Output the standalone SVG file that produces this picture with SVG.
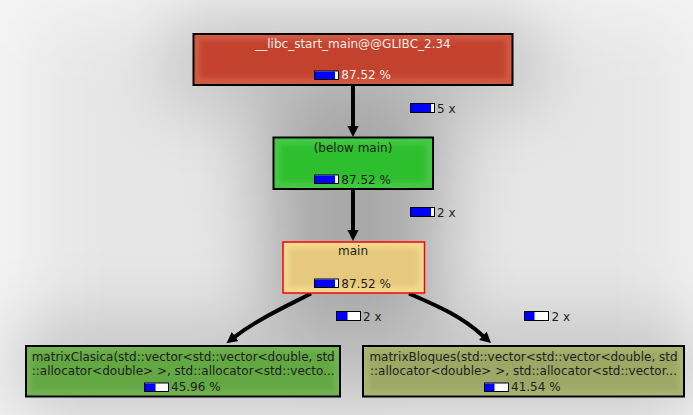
<svg xmlns="http://www.w3.org/2000/svg" width="693" height="415" viewBox="0 0 693 415">
<defs>
<style>
text{font-family:"DejaVu Sans","Liberation Sans",sans-serif;font-size:12px;fill:#1e1e1e}
.nb{stroke:#000;stroke-width:2}
.bo{fill:#fff;stroke:#000;stroke-width:1}
.bf{fill:#0000ff}
.edge{fill:none;stroke:#000;stroke-width:4;marker-end:url(#ah)}
.sh{fill:#000;fill-opacity:0.15}
</style>
<filter id="blur" x="-50%" y="-50%" width="200%" height="200%"><feGaussianBlur stdDeviation="34"/></filter>
<filter id="ib" x="-10%" y="-30%" width="120%" height="160%"><feGaussianBlur stdDeviation="2.5"/></filter>
<marker id="ah" markerUnits="userSpaceOnUse" markerWidth="12" markerHeight="12" viewBox="0 -6 12 12" refX="1" refY="0" orient="auto"><path d="M0,-5.6 L11,0 L0,5.6 z" fill="#000"/></marker>
</defs>
<rect width="693" height="415" fill="#f4f4f4"/>
<g id="shadow" filter="url(#blur)">
<rect fill="#000" fill-opacity="0.06" x="40" y="20" width="640" height="395"/>
<rect class="sh" x="168" y="10" width="370" height="100"/>
<rect class="sh" x="248" y="112" width="210" height="102"/>
<rect class="sh" x="258" y="216" width="192" height="102"/>
<rect class="sh" x="10" y="322" width="345" height="90"/>
<rect class="sh" x="348" y="322" width="352" height="90"/>
<rect class="sh" x="280" y="80" width="146" height="250"/>
</g>
<g id="connectors">
<path class="edge" d="M353,85 V127"/>
<path class="edge" d="M353,189.3 V231"/>
<path class="edge" d="M311,293.5 C285,307 258,319 234.4,337.1"/>
<path class="edge" d="M409,293.5 C435,305 460,315 483.6,336.4"/>
<g id="lbl1"><rect class="bo" x="410.5" y="103.5" width="24" height="9"/><rect class="bf" x="411" y="104" width="20" height="8"/><text x="437" y="112.7">5 x</text></g>
<g id="lbl2"><rect class="bo" x="410.5" y="207.5" width="24" height="9"/><rect class="bf" x="411" y="208" width="20" height="8"/><text x="437" y="216.8">2 x</text></g>
<g id="lbl3"><rect class="bo" x="336.5" y="311.5" width="24" height="9"/><rect class="bf" x="337" y="312" width="10.5" height="8"/><text x="363" y="320.8">2 x</text></g>
<g id="lbl4"><rect class="bo" x="524.5" y="311.5" width="24" height="9"/><rect class="bf" x="525" y="312" width="9.5" height="8"/><text x="551.5" y="320.8">2 x</text></g>
</g>
<g id="node-libc">
<rect class="nb" x="193.5" y="34" width="319" height="51" fill="#d15a44"/>
<rect x="200" y="40" width="306" height="38" fill="#c3432e" filter="url(#ib)"/>
<text x="353" y="48.3" text-anchor="middle" style="fill:#f6ece8">__libc_start_main@@GLIBC_2.34</text>
<rect class="bo" x="314.5" y="71" width="24" height="8.5"/><rect class="bf" x="315" y="71.5" width="20" height="7.5"/>
<text x="341.3" y="79.3" style="fill:#f6ece8">87.52 %</text>
</g>
<g id="node-below-main">
<rect class="nb" x="273.5" y="137.5" width="159.5" height="51.5" fill="#46c846"/>
<rect x="280" y="144" width="146" height="38" fill="#2ebf2e" filter="url(#ib)"/>
<text x="353" y="151.5" text-anchor="middle">(below main)</text>
<rect class="bo" x="314.5" y="175" width="24" height="8.5"/><rect class="bf" x="315" y="175.5" width="20" height="7.5"/>
<text x="341.3" y="183.5">87.52 %</text>
</g>
<g id="node-main">
<rect x="283" y="242" width="141.5" height="51" fill="#f2da92" stroke="#ff0000" stroke-width="1.5"/>
<rect x="289" y="248" width="129.5" height="39" fill="#e6c97c" filter="url(#ib)"/>
<text x="353" y="255.3" text-anchor="middle">main</text>
<rect class="bo" x="314.5" y="279" width="24" height="8.5"/><rect class="bf" x="315" y="279.5" width="20" height="7.5"/>
<text x="341.3" y="287.7">87.52 %</text>
</g>
<g id="node-matrixClasica">
<rect class="nb" x="26" y="346" width="314" height="50.5" fill="#72b252"/>
<rect x="32" y="352" width="302" height="38" fill="#64a842" filter="url(#ib)"/>
<text x="183.2" y="360.5" text-anchor="middle">matrixClasica(std::vector&lt;std::vector&lt;double, std</text>
<text x="183.2" y="374.5" text-anchor="middle">::allocator&lt;double&gt; &gt;, std::allocator&lt;std::vecto...</text>
<rect class="bo" x="144.5" y="383" width="24" height="8.5"/><rect class="bf" x="145" y="383.5" width="10.5" height="7.5"/>
<text x="171" y="391.3">45.96 %</text>
</g>
<g id="node-matrixBloques">
<rect class="nb" x="363" y="346" width="321" height="50.5" fill="#aab472"/>
<rect x="369" y="352" width="309" height="38" fill="#9ea866" filter="url(#ib)"/>
<text x="523.5" y="360.5" text-anchor="middle">matrixBloques(std::vector&lt;std::vector&lt;double, std</text>
<text x="523.5" y="374.5" text-anchor="middle">::allocator&lt;double&gt; &gt;, std::allocator&lt;std::vector...</text>
<rect class="bo" x="484.5" y="383" width="24" height="8.5"/><rect class="bf" x="485" y="383.5" width="9.5" height="7.5"/>
<text x="511" y="391.3">41.54 %</text>
</g>
</svg>
